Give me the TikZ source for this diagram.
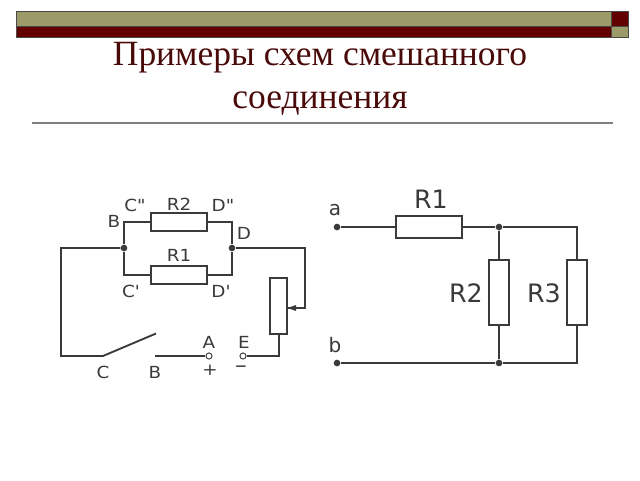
\documentclass[tikz,border=0pt]{standalone}
\usepackage{fontspec}
\setmainfont{DejaVu Sans}
\newfontfamily\titlefont{Liberation Serif}
\newfontfamily\labfont[FakeStretch=1.1]{DejaVu Sans}
\definecolor{olivebar}{HTML}{9C9A68}
\definecolor{maroonbar}{HTML}{620000}
\definecolor{titlecol}{HTML}{4A0A0A}
\definecolor{wirecol}{HTML}{3A3A3A}
\definecolor{edgecol}{HTML}{4A4A4A}
\tikzset{
 barbox/.style={draw=edgecol,line width=0.75pt,inner sep=0},
 wire/.style={draw=wirecol,line width=1.4pt},
 res/.style={draw=wirecol,fill=white,line width=1.4pt,inner sep=0},
 dotj/.style={circle,fill=wirecol,inner sep=0,minimum size=5pt},
 opent/.style={circle,draw=wirecol,fill=white,line width=0.7pt,inner sep=0,minimum size=4.6pt},
 lab/.style={text=wirecol,font=\labfont\fontsize{12.5pt}{14pt}\selectfont,inner sep=0},
 labbig/.style={text=wirecol,font=\fontsize{19pt}{21pt}\selectfont,inner sep=0},
 labmid/.style={text=wirecol,font=\fontsize{15pt}{17pt}\selectfont,inner sep=0},
 titletext/.style={text=titlecol,font=\titlefont\fontsize{26.6pt}{30pt}\selectfont,inner sep=0,anchor=base},
}
\begin{document}
\begin{tikzpicture}[x=0.75pt,y=-0.75pt]
\useasboundingbox (0,0) rectangle (640,480);
% header bars
\path[barbox,fill=olivebar] (16,11) rectangle (611,26);
\path[barbox,fill=maroonbar] (16,26) rectangle (611,37);
\path[barbox,fill=maroonbar] (611,11) rectangle (628,26);
\path[barbox,fill=olivebar] (611,26) rectangle (628,37);
% title
\node[titletext] (t1) at (320,65) {Примеры схем смешанного};
\node[titletext] (t2) at (320,108) {соединения};
\draw[draw=gray,line width=1.4pt] (32,123) -- (613,123);

% left circuit
\node[res,minimum width=42pt,minimum height=13.5pt] (LR2) at (179,222) {};
\node[res,minimum width=42pt,minimum height=13.5pt] (LR1) at (179,275) {};
\node[res,minimum width=12.75pt,minimum height=42pt] (POT) at (278.5,306) {};
\node[dotj] (JB) at (124,248) {};
\node[dotj] (JD) at (232,248) {};
\node[opent] (TA) at (209,356) {};
\node[opent] (TE) at (243,356) {};
\coordinate (SW1) at (103,356);
\coordinate (SW2) at (156,333.5);
\coordinate (SW3) at (155,356);
\coordinate (WA) at (305,308);
\path[wire] (JB) -- (124,222) -- (LR2.west);
\path[wire] (LR2.east) -- (232,222) -- (JD);
\path[wire] (JB) -- (124,275) -- (LR1.west);
\path[wire] (LR1.east) -- (232,275) -- (JD);
\path[wire] (JB) -- (61,248) -- (61,356) -- (SW1) -- (SW2);
\path[wire] (SW3) -- (TA);
\path[wire] (TE) -- (279,356) -- (279,334);
\path[wire] (JD) -- (305,248) -- (WA) -- (POT.east |- WA);
\fill[wirecol] (287.5,308) -- (296,305) -- (296,311) -- cycle;
% left labels
\node[lab] (lR2) at (179,204) {R2};
\node[lab] (lR1) at (179,255.5) {R1};
\node[lab] (lC2) at (135,205) {C"};
\node[lab] (lD2) at (223,205) {D"};
\node[lab] (lB1) at (114,221.5) {B};
\node[lab] (lD) at (244,233.5) {D};
\node[lab] (lC1) at (131,291) {C'};
\node[lab] (lD1) at (221,291) {D'};
\node[lab] (lA) at (209,342) {A};
\node[lab] (lE) at (244,342) {E};
\node[lab] (lC) at (103,372) {C};
\node[lab] (lB) at (155,372) {B};
\node[lab] (lplus) at (210,370.5) {+};
\node[lab] (lminus) at (241,369.5) {\fontsize{16pt}{16pt}\selectfont –};

% right circuit
\node[res,minimum width=49.5pt,minimum height=16.5pt] (R1) at (429,227) {};
\node[res,minimum width=15pt,minimum height=48.75pt] (R2) at (499,292.5) {};
\node[res,minimum width=15pt,minimum height=48.75pt] (R3) at (577,292.5) {};
\node[dotj] (Ta) at (337,227) {};
\node[dotj] (Tb) at (337,363) {};
\node[dotj] (J1) at (499,227) {};
\node[dotj] (J2) at (499,363) {};
\path[wire] (Ta) -- (R1.west);
\path[wire] (R1.east) -- (J1) -- (R2.north);
\path[wire] (J1) -- (577,227) -- (R3.north);
\path[wire] (R2.south) -- (J2);
\path[wire] (Tb) -- (J2) -- (577,363) -- (R3.south);
\node[labbig] (lr1) at (431,199) {R1};
\node[labbig] (lr2) at (466,293) {R2};
\node[labbig] (lr3) at (544,293) {R3};
\node[labmid] (la) at (335,210) {a};
\node[labmid] (lb) at (335,345) {b};
\end{tikzpicture}
\end{document}
